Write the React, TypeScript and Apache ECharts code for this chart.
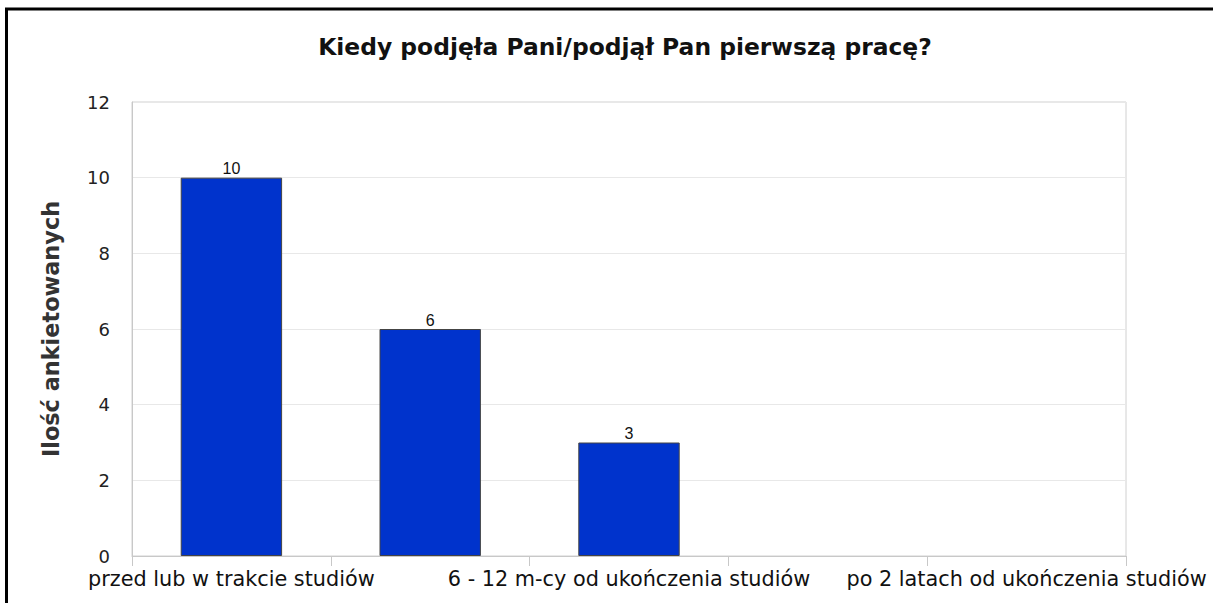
import React, { useEffect, useRef } from "react";
import * as echarts from "echarts";

const title = "Kiedy podjęła Pani/podjął Pan pierwszą pracę?";
const yAxisName = "Ilość ankietowanych";
const categories = [
  "przed lub w trakcie studiów",
  "do 6 m-cy od ukończenia studiów",
  "6 - 12 m-cy od ukończenia studiów",
  "1 - 2 lata od ukończenia studiów",
  "po 2 latach od ukończenia studiów",
];
const values = [10, 6, 3, 0, 0];
const yMin = 0;
const yMax = 12;
const yStep = 2;

export default function App() {
  const ref = useRef<HTMLDivElement>(null);
  useEffect(() => {
    if (!ref.current) return;
    const chart = echarts.init(ref.current, undefined, { renderer: "svg" });
    chart.setOption({
      animation: false,
      backgroundColor: "#ffffff",
      title: {
        text: title,
        left: 620,
        textAlign: "center",
        top: 30,
        textStyle: {
          fontFamily: "DejaVu Sans",
          fontWeight: "bold",
          fontSize: 23.4,
          color: "#111111",
        },
      },
      graphic: [
        { type: "line", shape: { x1: 5, y1: 9, x2: 1213, y2: 9 }, style: { stroke: "#000", lineWidth: 3 } },
        { type: "line", shape: { x1: 6.5, y1: 8, x2: 6.5, y2: 603 }, style: { stroke: "#000", lineWidth: 3 } },
      ],
      grid: {
        left: 132,
        right: 87,
        top: 102,
        bottom: 47,
        containLabel: false,
        outerBoundsMode: "none",
        show: true,
        borderColor: "#d0d0d0",
        borderWidth: 1,
      },
      xAxis: {
        type: "category",
        data: categories,
        axisLine: { lineStyle: { color: "#c8c8c8", width: 1 } },
        axisTick: { show: true, alignWithLabel: false, interval: 0, length: 10, lineStyle: { color: "#c8c8c8" } },
        axisLabel: {
          interval: 1,
          fontFamily: "DejaVu Sans",
          fontSize: 20.8,
          color: "#111111",
          margin: 12,
        },
      },
      yAxis: {
        type: "value",
        min: yMin,
        max: yMax,
        interval: yStep,
        name: yAxisName,
        nameLocation: "middle",
        nameGap: 70,
        nameTextStyle: {
          fontFamily: "DejaVu Sans",
          fontWeight: "bold",
          fontSize: 22.4,
          color: "#333333",
        },
        axisLine: { show: true, lineStyle: { color: "#c8c8c8" } },
        axisTick: { show: false },
        axisLabel: {
          fontFamily: "DejaVu Sans",
          fontSize: 18,
          color: "#222222",
          margin: 22,
        },
        splitLine: { lineStyle: { color: "#e8e8e8", width: 1 } },
      },
      series: [
        {
          type: "bar",
          data: values.map((v) => ({
            value: v,
            itemStyle: v > 0 ? undefined : { borderWidth: 0 },
          })),
          barWidth: "51%",
          itemStyle: { color: "#0033cc", borderColor: "#444444", borderWidth: 1 },
          label: {
            show: true,
            position: "top",
            distance: 1,
            fontFamily: "Liberation Sans",
            fontSize: 16,
            color: "#111111",
            formatter: (p: any) => (p.value > 0 ? String(p.value) : ""),
          },
        },
      ],
    });
    return () => chart.dispose();
  }, []);
  return (
    <div
      ref={ref}
      style={{ position: "fixed", left: 0, top: 0, width: 1213, height: 603 }}
    />
  );
}
